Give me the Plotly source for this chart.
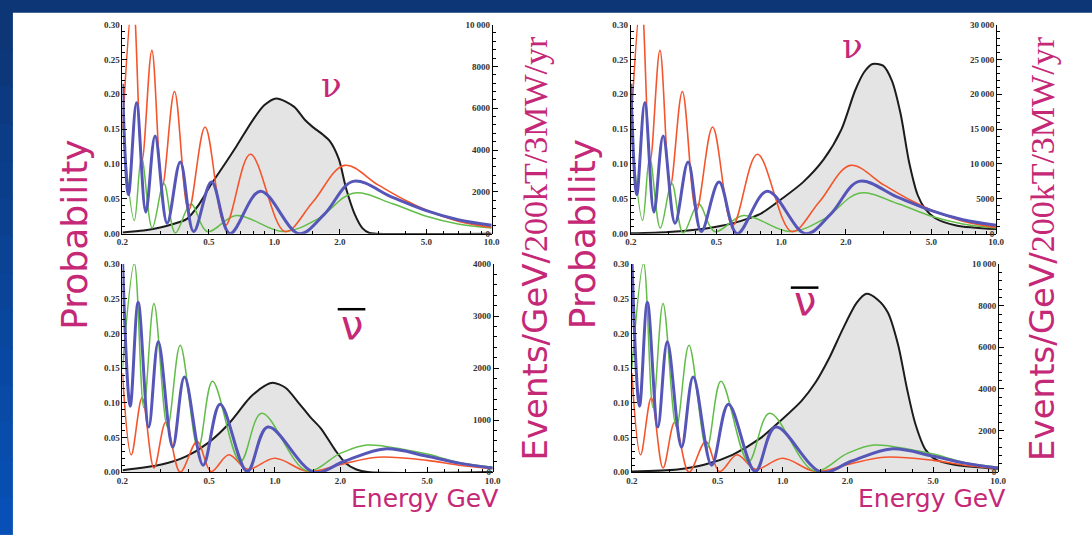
import math
import plotly.graph_objects as go

# ---------------- data ----------------
# neutrino (top row) oscillation probabilities, shared by both top panels
nu_red_E = [0.200, 0.2235, 0.246, 0.273, 0.305, 0.347, 0.403, 0.480, 0.595, 0.775, 1.12, 1.50, 2.10, 3.0, 4.0, 5.0, 7.0, 10.0]
nu_red_P = [0.150, 0.340, 0.105, 0.263, 0.068, 0.204, 0.033, 0.153, 0.012, 0.114, 0.003, 0.045, 0.098, 0.070, 0.048, 0.034, 0.018, 0.009]
nu_blue_E = [0.200, 0.213, 0.232, 0.256, 0.2825, 0.321, 0.369, 0.425, 0.514, 0.624, 0.861, 1.30, 1.70, 2.30, 3.5, 5.0, 7.0, 10.0]
nu_blue_P = [0.215, 0.056, 0.188, 0.031, 0.140, 0.015, 0.103, 0.003, 0.074, 0.000, 0.061, 0.000, 0.028, 0.075, 0.052, 0.033, 0.020, 0.012]
nu_green_E = [0.200, 0.2267, 0.2447, 0.274, 0.310, 0.350, 0.413, 0.490, 0.668, 1.10, 1.60, 2.30, 3.5, 5.0, 7.0, 10.0]
nu_green_P = [0.156, 0.019, 0.110, 0.008, 0.072, 0.001, 0.0425, 0.003, 0.026, 0.003, 0.022, 0.058, 0.043, 0.025, 0.014, 0.008]

# antineutrino (bottom row) oscillation probabilities, shared by both bottom panels
anu_red_E = [0.200, 0.2195, 0.246, 0.279, 0.316, 0.368, 0.440, 0.510, 0.615, 0.750, 1.00, 1.42, 2.00, 2.96, 5.0, 7.0, 10.0]
anu_red_P = [0.143, 0.025, 0.107, 0.006, 0.072, 0.000, 0.044, 0.001, 0.025, 0.004, 0.020, 0.001, 0.011, 0.0215, 0.017, 0.010, 0.005]
anu_blue_E = [0.200, 0.217, 0.236, 0.264, 0.292, 0.340, 0.385, 0.469, 0.561, 0.747, 0.928, 1.51, 2.10, 3.19, 5.0, 7.0, 10.0]
anu_blue_P = [0.310, 0.095, 0.245, 0.065, 0.188, 0.036, 0.137, 0.010, 0.098, 0.001, 0.065, 0.000, 0.016, 0.0335, 0.023, 0.013, 0.006]
anu_green_E = [0.200, 0.2267, 0.2506, 0.279, 0.322, 0.368, 0.445, 0.518, 0.695, 0.870, 1.40, 2.00, 2.65, 4.0, 5.0, 7.0, 10.0]
anu_green_P = [0.150, 0.301, 0.093, 0.243, 0.065, 0.183, 0.034, 0.131, 0.015, 0.085, 0.002, 0.027, 0.039, 0.032, 0.026, 0.014, 0.007]

# event spectra (Events/GeV/200kT/3MW/yr)
tl_spec_E = [0.2, 0.25, 0.28, 0.333, 0.396, 0.45, 0.506, 0.58, 0.668, 0.796, 0.9, 1.02, 1.23, 1.38, 1.49, 1.67, 1.80, 1.98, 2.14, 2.35, 2.54, 2.74, 2.95, 10.0]
tl_spec_N = [60, 150, 236, 425, 709, 1400, 2283, 3200, 4173, 5433, 6150, 6468, 6075, 5447, 5133, 4741, 4427, 3564, 2150, 895, 267, 31, 0, 0]
tr_spec_E = [0.2, 0.3, 0.398, 0.5, 0.6, 0.7, 0.809, 1.011, 1.265, 1.58, 1.905, 2.21, 2.43, 2.66, 2.98, 3.27, 3.59, 3.94, 4.32, 4.66, 5.21, 6.52, 10.0]
tr_spec_N = [50, 250, 565, 1000, 1507, 2150, 2920, 5040, 7394, 10690, 14930, 20580, 23170, 24350, 24110, 22000, 17280, 10220, 5510, 3626, 2213, 1177, 660]
bl_spec_E = [0.2, 0.302, 0.392, 0.491, 0.615, 0.77, 0.894, 0.98, 1.12, 1.30, 1.455, 1.63, 1.89, 2.11, 2.37, 2.67, 10.0]
bl_spec_N = [38, 145, 302, 553, 931, 1434, 1654, 1717, 1623, 1308, 1057, 836, 428, 176, 50, 0, 0]
br_spec_E = [0.2, 0.325, 0.437, 0.586, 0.787, 0.982, 1.225, 1.419, 1.644, 1.905, 2.21, 2.45, 2.755, 3.08, 3.44, 3.77, 4.13, 4.61, 5.15, 6.2, 10.0]
br_spec_N = [30, 126, 362, 833, 1619, 2484, 3428, 4292, 5472, 6887, 8145, 8569, 8302, 7673, 6101, 4057, 2327, 1069, 597, 362, 157]

# tick labels
x_tick_vals = [0.2, 0.5, 1.0, 2.0, 5.0, 10.0]
x_tick_text = ["0.2", "0.5", "1.0", "2.0", "5.0", "10.0"]
x_minor_vals = [0.3, 0.4, 0.6, 0.7, 0.8, 0.9, 1.5, 3, 4, 6, 7, 8, 9]
p_tick_vals = [0.0, 0.05, 0.10, 0.15, 0.20, 0.25, 0.30]
p_tick_text = ["0.00", "0.05", "0.10", "0.15", "0.20", "0.25", "0.30"]
tl_n_vals = [0, 2000, 4000, 6000, 8000, 10000]
tl_n_text = ["0", "2000", "4000", "6000", "8000", "10\u2009000"]
tr_n_vals = [0, 5000, 10000, 15000, 20000, 25000, 30000]
tr_n_text = ["0", "5000", "10\u2009000", "15\u2009000", "20\u2009000", "25\u2009000", "30\u2009000"]
bl_n_vals = [0, 1000, 2000, 3000, 4000]
bl_n_text = ["0", "1000", "2000", "3000", "4000"]
br_n_vals = [0, 2000, 4000, 6000, 8000, 10000]
br_n_text = ["0", "2000", "4000", "6000", "8000", "10\u2009000"]

# ---------------- styling / layout ----------------
W, H = 1092, 536
MAG = "#c52876"
RED, BLUE, GREEN, BLACK = "#f4552c", "#5656b8", "#62bd48", "#1c1c1c"
TICKFONT = dict(family="Liberation Serif", size=9, color="#333333", weight="bold")


def fx(p):
    return p / W


def fy(p):
    return 1 - p / H


nu_curves = [(nu_green_E, nu_green_P, GREEN, 1.5), (nu_red_E, nu_red_P, RED, 1.6), (nu_blue_E, nu_blue_P, BLUE, 3.0)]
anu_curves = [(anu_red_E, anu_red_P, RED, 1.6), (anu_green_E, anu_green_P, GREEN, 1.5), (anu_blue_E, anu_blue_P, BLUE, 3.0)]

panels = [
    dict(x0=118, x1=492, yt=20, yb=233, E=tl_spec_E, N=tl_spec_N, nmax=10000, nv=tl_n_vals, nt=tl_n_text, nminor=400, curves=nu_curves),
    dict(x0=633, x1=1003, yt=20, yb=233, E=tr_spec_E, N=tr_spec_N, nmax=30000, nv=tr_n_vals, nt=tr_n_text, nminor=1000, curves=nu_curves),
    dict(x0=118, x1=493, yt=264, yb=476, E=bl_spec_E, N=bl_spec_N, nmax=4000, nv=bl_n_vals, nt=bl_n_text, nminor=200, curves=anu_curves),
    dict(x0=634, x1=1005, yt=264, yb=476, E=br_spec_E, N=br_spec_N, nmax=10000, nv=br_n_vals, nt=br_n_text, nminor=400, curves=anu_curves),
]

fig = go.Figure()
layout = {}
for i, pan in enumerate(panels, start=1):
    xa = "x" if i == 1 else f"x{i}"
    yb = "y" if i == 1 else f"y{2 * i - 1}"
    yo = f"y{2 * i}"
    fig.add_trace(go.Scatter(x=pan["E"], y=pan["N"], xaxis=xa, yaxis=yb, mode="lines",
                             line=dict(color=BLACK, width=2.0, shape="spline", smoothing=0.8),
                             fill="tozeroy", fillcolor="#e4e4e4", hoverinfo="skip", showlegend=False))
    for E, P, col, w in pan["curves"]:
        fig.add_trace(go.Scatter(x=E, y=P, xaxis=xa, yaxis=yo, mode="lines",
                                 line=dict(color=col, width=w, shape="spline", smoothing=1.0),
                                 hoverinfo="skip", showlegend=False))
    xdom = [fx(pan["x0"]), fx(pan["x1"])]
    ydom = [fy(pan["yb"]), fy(pan["yt"])]
    common = dict(showline=True, linecolor="black", linewidth=1, tickcolor="black", tickwidth=1,
                  showgrid=False, zeroline=False, tickfont=TICKFONT, fixedrange=True)
    layout["xaxis" if i == 1 else f"xaxis{i}"] = dict(
        domain=xdom, anchor=yb, type="log", range=[math.log10(0.2), 1.0],
        ticks="inside", ticklen=5, tickmode="array", tickvals=x_tick_vals, ticktext=x_tick_text,
        minor=dict(ticks="inside", ticklen=3, tickvals=x_minor_vals, tickcolor="black", showgrid=False),
        **common)
    layout["yaxis" if i == 1 else f"yaxis{2 * i - 1}"] = dict(
        domain=ydom, anchor="free", position=xdom[1], side="left", range=[0, pan["nmax"]],
        ticks="inside", ticklen=5, tickmode="array", tickvals=pan["nv"], ticktext=pan["nt"],
        minor=dict(ticks="inside", ticklen=3, dtick=pan["nminor"], tick0=0, tickcolor="black", showgrid=False),
        **common)
    layout[f"yaxis{2 * i}"] = dict(
        domain=ydom, overlaying=yb, anchor=xa, side="left", range=[0, 0.30],
        ticks="inside", ticklen=5, tickmode="array", tickvals=p_tick_vals, ticktext=p_tick_text,
        minor=dict(ticks="inside", ticklen=3, dtick=0.01, tick0=0, tickcolor="black", showgrid=False),
        **common)

# frame decoration (blue bands)
shapes = [dict(type="rect", xref="paper", yref="paper", x0=-0.01, x1=1.01, y0=fy(8), y1=1.02,
               fillcolor="#0d3677", line=dict(width=0), layer="above")]
nseg = 14
for k in range(nseg):
    t = k / (nseg - 1)
    r = int(13 + (8 - 13) * t)
    g = int(54 + (80 - 54) * t)
    b = int(119 + (182 - 119) * t)
    shapes.append(dict(type="rect", xref="paper", yref="paper", x0=-0.01, x1=fx(7),
                       y0=fy(8 + (H + 4 - 8) * (k + 1) / nseg), y1=fy(8 + (H + 4 - 8) * k / nseg) + 0.002,
                       fillcolor=f"rgb({r},{g},{b})", line=dict(width=0), layer="above"))
# antineutrino bars
shapes.append(dict(type="line", xref="paper", yref="paper", x0=fx(336), x1=fx(364), y0=fy(310), y1=fy(310),
                   line=dict(color="black", width=2.5)))
shapes.append(dict(type="line", xref="paper", yref="paper", x0=fx(795), x1=fx(823), y0=fy(288), y1=fy(288),
                   line=dict(color="black", width=2.5)))

events_text = "Events/GeV/<span style='font-family:Liberation Serif'>200kT/3MW/yr</span>"
ann = []


def add_text(txt, x, y, size, family, angle=0):
    ann.append(dict(text=txt, x=fx(x), y=fy(y), xref="paper", yref="paper", showarrow=False,
                    xanchor="center", yanchor="middle", textangle=angle,
                    font=dict(family=family, size=size, color=MAG)))


add_text("Probability", 70, 234, 36, "DejaVu Sans", -90)
add_text("Probability", 584, 234, 36, "DejaVu Sans", -90)
add_text(events_text, 536, 248, 34, "DejaVu Sans", -90)
add_text(events_text, 1050, 248, 34, "DejaVu Sans", -90)
add_text("Energy GeV", 424, 503, 25, "DejaVu Sans")
add_text("Energy GeV", 938, 503, 25, "DejaVu Sans")
add_text("ν", 330, 82, 34, "DejaVu Serif")
add_text("ν", 857, 42, 34, "DejaVu Serif")
add_text("ν", 350, 326, 40, "DejaVu Sans")
add_text("ν", 809, 302, 40, "DejaVu Sans")

fig.update_layout(width=W, height=H, margin=dict(l=0, r=0, t=0, b=0), autosize=False,
                  paper_bgcolor="white", plot_bgcolor="white", showlegend=False,
                  shapes=shapes, annotations=ann, **layout)
fig.write_html("out.html", config=dict(displayModeBar=False))
